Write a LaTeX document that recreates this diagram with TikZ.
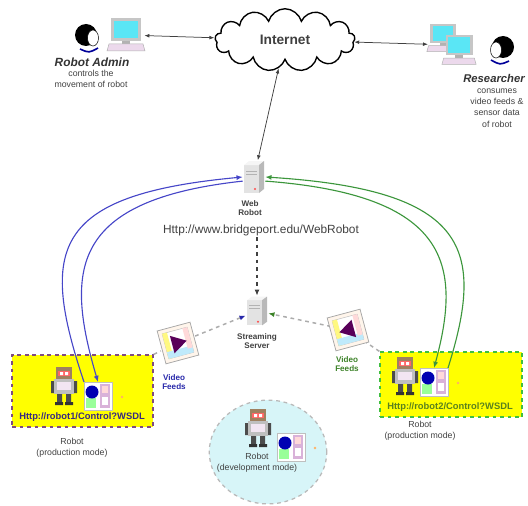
\documentclass[tikz,border=0pt]{standalone}
\usepackage{fontspec}
\setmainfont{Liberation Sans}
\usetikzlibrary{arrows.meta, shapes.symbols, shapes.geometric}

\definecolor{linkblue}{RGB}{70,70,200}
\definecolor{linkgreen}{RGB}{60,150,60}
\definecolor{feedblue}{RGB}{40,40,170}
\definecolor{feedgreen}{RGB}{60,130,40}
\definecolor{urlblue}{RGB}{55,40,130}
\definecolor{urlgreen}{RGB}{90,130,30}
\definecolor{boxyellow}{RGB}{255,255,0}
\definecolor{devcyan}{RGB}{215,245,248}
\definecolor{screencyan}{RGB}{90,230,245}
\definecolor{txtgray}{RGB}{65,65,65}

% small icons, drawn in pixel-like units
\tikzset{
  pics/server/.style={code={
    \fill[gray!22] (-10,-12) rectangle (5,16);
    \fill[gray!8] (-10,-12) -- (-5,-16) -- (10,-16) -- (5,-12) -- cycle;
    \fill[gray!55] (5,-12) -- (10,-16) -- (10,12) -- (5,16) -- cycle;
    \draw[gray!60, line width=0.3pt] (-8,-6) -- (3,-6) (-8,-3) -- (3,-3);
    \fill[red!70] (1,12) circle (1.2);
  }},
  pics/robot/.style={code={
    \fill[gray!60!black] (-7,7) rectangle (-2,17) (2,7) rectangle (7,17);
    \fill[gray!40!black] (-9,16) rectangle (-1,19) (1,16) rectangle (9,19);
    \fill[gray!60!black] (-13,-5) rectangle (-10,7) (10,-5) rectangle (13,7);
    \fill[gray!50] (-10,-7) rectangle (10,8);
    \fill[violet!10] (-7,-4) rectangle (7,4);
    \fill[brown!50!gray] (-8,-19) rectangle (8,-7);
    \fill[red!60] (-6,-15) rectangle (6,-10);
    \fill[white] (-4,-14) rectangle (-1,-11) (1,-14) rectangle (4,-11);
  }},
  pics/panel/.style={code={
    \draw[gray!50, fill=white, line width=0.6pt] (-14,-14) rectangle (14,14);
    \fill[violet!30] (2,-12) rectangle (12,12);
    \fill[pink!60] (4,-10) rectangle (10,-3);
    \fill[white] (4,1) rectangle (10,9);
    \fill[green!40] (-12,2) rectangle (-2,12);
    \fill[blue!70!black] (-6,-4) circle (6.5);
  }},
  pics/monitor/.style={code={
    \fill[gray!45] (-15,-17) rectangle (15,6);
    \fill[screencyan] (-12,-14) rectangle (12,3);
    \fill[gray!60] (-4,6) rectangle (4,9);
    \draw[gray!60, fill=violet!15] (-17,9) -- (17,9) -- (19,16) -- (-19,16) -- cycle;
  }},
  pics/person/.style={code={
    \fill[black] (-3,-3) circle (11);
    \draw[black, fill=white, line width=0.4pt] (4,0) ellipse (5.5 and 8);
    \draw[blue!60!black, line width=1.3pt] (-9,11) .. controls (0,15) .. (9,10);
  }},
  pics/video/.style={code={
    \begin{scope}[rotate=15]
      \draw[gray!70, fill=orange!8, line width=0.6pt] (-17,-17) rectangle (17,17);
      \draw[gray!50, fill=white] (-13,-13) rectangle (13,13);
      \fill[yellow!50] (-13,-13) rectangle (-8,13);
      \fill[cyan!25] (-13,6) rectangle (13,13);
      \fill[pink!60] (8,-13) rectangle (13,8);
      \begin{scope}[xscale=#1]
        \fill[violet!70!black] (-6,-9) -- (9,0) -- (-6,9) -- cycle;
      \end{scope}
    \end{scope}
  }}
}

\begin{document}
\begin{tikzpicture}[x=0.8pt, y=-0.8pt,
    spot/.style={inner sep=0pt, minimum size=#1},
    lbl/.style={font=\fontsize{7}{9}\selectfont, text=txtgray, align=center, inner sep=0pt},
    title/.style={font=\fontsize{9.5}{11}\selectfont\bfseries\itshape, text=black!80, inner sep=0pt},
    srvlbl/.style={font=\fontsize{6.5}{7.5}\selectfont\bfseries, text=txtgray, align=center, inner sep=0pt},
    robotbox/.style={draw=#1, dashed, line width=1pt, fill=boxyellow, inner sep=0pt},
    netlink/.style={{Latex[length=4pt,width=3pt]}-{Latex[length=4pt,width=3pt]}, line width=0.6pt, black!75},
    feed/.style={dashed, line width=1.2pt, gray!65},
    ctrl/.style={line width=0.9pt, #1, -{Latex[length=5pt,width=4pt]}}]
\useasboundingbox (0,0) rectangle (528,505);

% robot boxes and development area
\node[robotbox=gray!60!violet, minimum width=112.8pt, minimum height=57.6pt] (lbox) at (82.5,391) {};
\node[robotbox=gray!50!green, minimum width=113.6pt, minimum height=52pt] (rbox) at (451,384.5) {};
\node[ellipse, draw=gray!55, dashed, line width=1pt, fill=devcyan, minimum width=94pt, minimum height=83pt] (dev) at (268,452) {};

% Internet and users
\node[cloud, draw, line width=1.1pt, cloud puffs=13, aspect=2.2, minimum width=112pt, minimum height=50pt, fill=white,
      font=\fontsize{11}{13}\selectfont\bfseries, text=black!75] (internet) at (285,40) {Internet};
\node[spot=29pt] (adminpc) at (126,35) {};
\node[spot=20pt] (admin) at (89,38) {};
\node[inner sep=0pt, minimum width=38pt, minimum height=32pt] (respc) at (452,45) {};
\node[spot=24pt] (researcher) at (500,50) {};

% servers and video feeds
\node[inner sep=0pt, minimum width=17.6pt, minimum height=26.4pt] (web) at (254,177) {};
\node[inner sep=0pt, minimum width=17.6pt, minimum height=24pt] (stream) at (257,311) {};
\node[spot=27pt] (lvideo) at (178,343) {};
\node[spot=27pt] (rvideo) at (348,330) {};

% robots
\node[spot=22pt] (lpanel) at (98,396) {};
\node[spot=22pt] (rpanel) at (434,382) {};
\node[spot=22pt] (dpanel) at (291,447) {};

% labels
\node[title] (admintitle) at (92,62) {Robot Admin};
\node[lbl] (admintext) at (91,79) {controls the\\movement of robot};
\node[title, font=\fontsize{9}{11}\selectfont\bfseries\itshape] (restitle) at (494,78) {Researcher};
\node[lbl] (restext) at (497,108) {consumes\\video feeds \&\\sensor data\\of robot};
\node[srvlbl] (webname) at (250,208) {Web\\Robot};
\node[font=\fontsize{9.5}{11}\selectfont, text=txtgray, inner sep=1pt] (weburl) at (261,230) {Http://www.bridgeport.edu/WebRobot};
\node[srvlbl] (streamname) at (257,341) {Streaming\\Server};
\node[srvlbl, text=feedblue] (lfeed) at (174,382) {Video\\Feeds};
\node[srvlbl, text=feedgreen] (rfeed) at (347,364) {Video\\Feeds};
\node[font=\fontsize{7.5}{9}\selectfont\bfseries, text=urlblue, inner sep=0pt] (lurl) at (82,417) {Http://robot1/Control?WSDL};
\node[font=\fontsize{7.5}{9}\selectfont\bfseries, text=urlgreen, inner sep=0pt] (rurl) at (450,407) {Http://robot2/Control?WSDL};
\node[lbl] (llabel) at (72,448) {Robot\\(production mode)};
\node[lbl] (rlabel) at (420,431) {Robot\\(production mode)};
\node[lbl] (devlabel) at (257,463) {Robot\\(development mode)};

% links
\draw[netlink] (adminpc) -- (internet);
\draw[netlink] (internet) -- (respc);
\draw[netlink] (internet) -- (web);
\draw[dashed, line width=1pt, black!75, -{Latex[length=5pt,width=4pt]}] (weburl.south -| stream.north) -- (stream.north);
\draw[feed, -{Latex[length=5pt,width=4pt,color=feedblue]}] (lvideo) -- (stream);
\draw[feed] (lbox.north east) -- (lvideo);
\draw[feed, -{Latex[length=5pt,width=4pt,color=feedgreen]}] (rvideo) -- (stream);
\draw[feed] (rbox.north west) -- (rvideo);

% control links between web robot and robots
\draw[ctrl=linkblue] (lpanel.north west) .. controls (40,250) and (50,195) .. (web.west);
\draw[ctrl=linkblue] (web.200) .. controls (70,200) and (65,270) .. (lpanel.north);
\draw[ctrl=linkgreen] (rpanel.north east) .. controls (485,250) and (470,190) .. (web.east);
\draw[ctrl=linkgreen] (web.-20) .. controls (450,195) and (462,265) .. (rpanel.north);

% icons
\pic at (adminpc) {monitor};
\pic at (admin) {person};
\pic[scale=0.85] at (443,38) {monitor};
\pic[scale=0.9] at (459,50) {monitor};
\pic[xscale=-1] at (researcher) {person};
\pic at (web) {server};
\pic[yscale=0.9] at (stream) {server};
\pic at (lvideo) {video=1};
\pic at (rvideo) {video=-1};
\pic at (64,386) {robot};
\pic at (lpanel) {panel};
\pic at (405,376) {robot};
\pic at (rpanel) {panel};
\pic at (258,428) {robot};
\pic at (dpanel) {panel};
\fill[orange!60] (122,397) circle (1.3) (458,383) circle (1.3) (315,448) circle (1.3);
\end{tikzpicture}
\end{document}
